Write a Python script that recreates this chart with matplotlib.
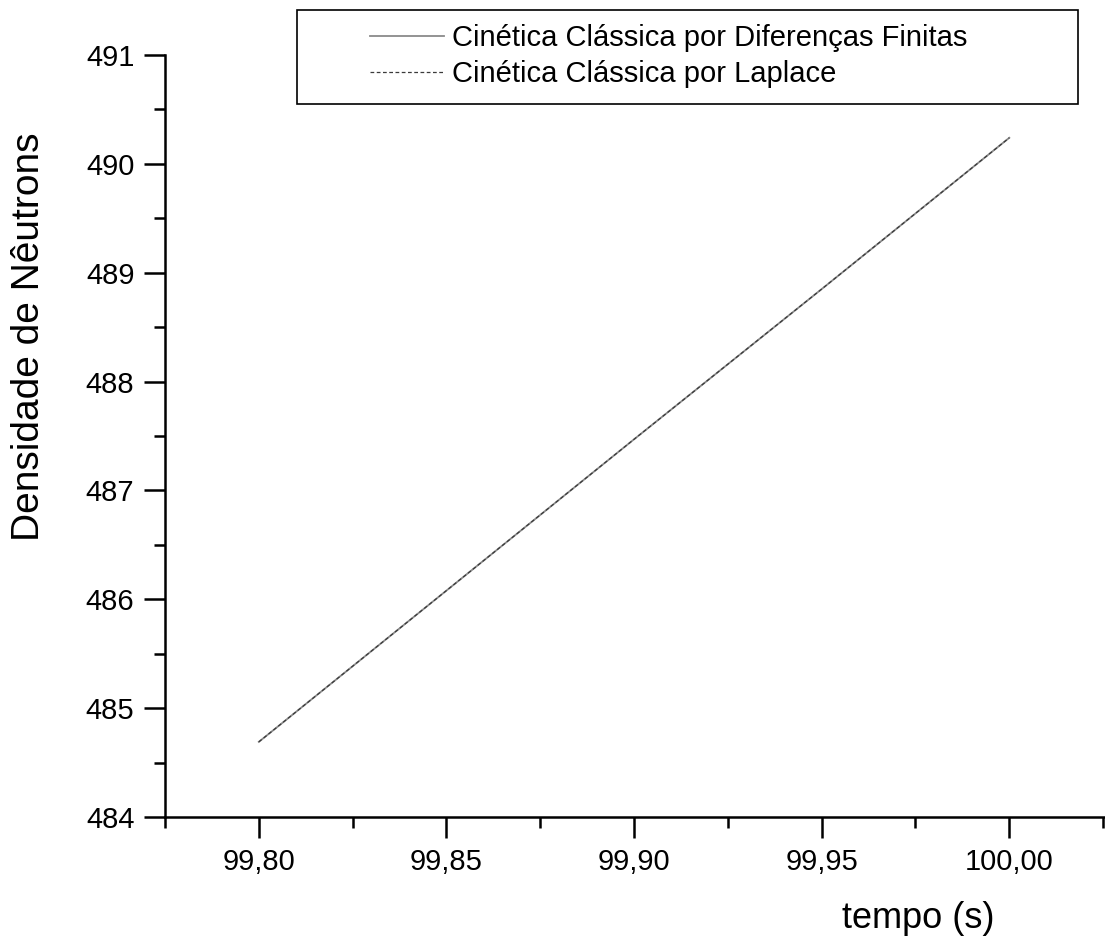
import matplotlib
matplotlib.use("Agg")
import matplotlib.pyplot as plt
from matplotlib.ticker import MultipleLocator, FuncFormatter
from matplotlib.patches import Rectangle

plt.rcParams["font.family"] = ["Liberation Sans", "DejaVu Sans"]

# Densidade de nêutrons nos últimos instantes
tempo = [99.80, 99.85, 99.90, 99.95, 100.00]
dens_dif_finitas = [484.69, 486.08, 487.47, 488.85, 490.24]
dens_laplace = [484.69, 486.08, 487.47, 488.85, 490.24]

fig = plt.figure(figsize=(11.05, 9.38), dpi=100)
ax = fig.add_axes([0.1493, 0.129, 0.8507, 0.8123])

ax.plot(tempo, dens_dif_finitas, color="#8a8a8a", lw=1.3, ls="-",
        label="Cinética Clássica por Diferenças Finitas")
ax.plot(tempo, dens_laplace, color="#3a3a3a", lw=0.9, ls=(0, (3, 2)),
        label="Cinética Clássica por Laplace")

ax.set_xlim(99.775, 100.0255)
ax.set_ylim(484, 491)
ax.xaxis.set_major_locator(MultipleLocator(0.05))
ax.xaxis.set_minor_locator(MultipleLocator(0.025))
ax.yaxis.set_major_locator(MultipleLocator(1))
ax.yaxis.set_minor_locator(MultipleLocator(0.5))
ax.xaxis.set_major_formatter(FuncFormatter(lambda v, p: f"{v:.2f}".replace(".", ",")))
ax.yaxis.set_major_formatter(FuncFormatter(lambda v, p: f"{v:.0f}"))

for s in ("top", "right"):
    ax.spines[s].set_visible(False)
for s in ("left", "bottom"):
    ax.spines[s].set_linewidth(1.8)

ax.tick_params(which="major", direction="out", length=15, width=1.8,
               labelsize=21, pad=7)
ax.tick_params(which="minor", direction="out", length=8, width=1.8)

fig.text(0.026, 1 - 337 / 938, "Densidade de Nêutrons", rotation=90,
         ha="center", va="center", fontsize=28)
fig.text(918 / 1105, 1 - 918 / 938, "tempo (s)", ha="center", va="center",
         fontsize=26)

# caixa da legenda
fig.patches.append(Rectangle((297 / 1105, 1 - 104 / 938), 781 / 1105, 94 / 938,
                             transform=fig.transFigure, fill=False,
                             edgecolor="black", lw=1.2))
leg = ax.legend(loc="upper left", bbox_to_anchor=(370 / 1105, 1 - 24 / 938),
                bbox_transform=fig.transFigure, frameon=False, fontsize=21,
                handlelength=2.55, handletextpad=0.25, labelspacing=0.28,
                borderaxespad=0, borderpad=0)

fig.savefig("out.png", dpi=100)
